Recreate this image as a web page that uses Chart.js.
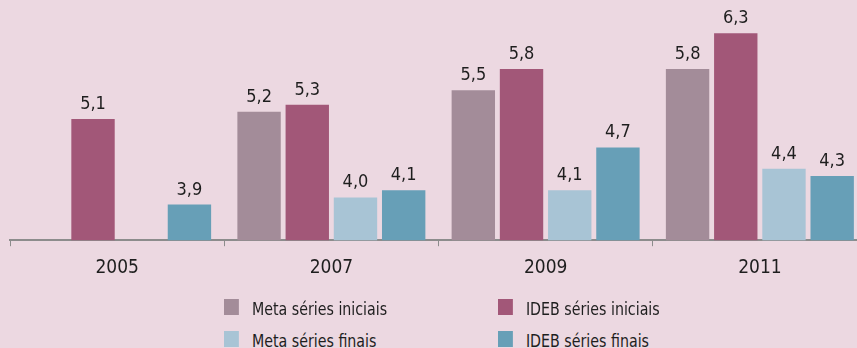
<!DOCTYPE html>
<html lang="pt">
<head>
<meta charset="utf-8">
<script src="https://cdn.jsdelivr.net/npm/chart.js@4"></script>
<style>
  html, body { margin: 0; padding: 0; }
  body {
    width: 857px;
    height: 348px;
    overflow: hidden;
    background: #ecd8e1;
    position: relative;
    font-family: "Liberation Sans Narrow", "DejaVu Sans Condensed", "Liberation Sans", sans-serif;
    color: #1e1e1e;
  }
  #chartBox { position: absolute; left: 0; top: 0; width: 867px; height: 300px; }
  .legend { position: absolute; font-size: 17px; line-height: 20px; white-space: nowrap; transform: scaleX(0.93); transform-origin: 0 0; }
  .legend span.box { display: inline-block; width: 16px; height: 16px; vertical-align: 0px; margin-right: 14px; }
</style>
</head>
<body>
<div id="chartBox"><canvas id="idebChart" width="867" height="300"></canvas></div>
<div id="legend"></div>

<script>
// Anos e séries do IDEB
const years = ["2005", "2007", "2009", "2011"];
const metaIniciais = [null, 5.2, 5.5, 5.8];
const idebIniciais = [5.1, 5.3, 5.8, 6.3];
const metaFinais = [null, 4.0, 4.1, 4.4];
const idebFinais = [3.9, 4.1, 4.7, 4.3];

const seriesNames = ["Meta séries iniciais", "IDEB séries iniciais", "Meta séries finais", "IDEB séries finais"];
const seriesColors = ["#a38c99", "#a25778", "#a8c4d5", "#679fb7"];
const seriesData = [metaIniciais, idebIniciais, metaFinais, idebFinais];

// value labels above each bar, decimal comma
const valueLabels = {
  id: "valueLabels",
  afterDatasetsDraw(chart) {
    const c = chart.ctx;
    c.save();
    c.font = '18px "Liberation Sans Narrow", "DejaVu Sans Condensed", sans-serif';
    c.fillStyle = "#1e1e1e";
    c.textAlign = "center";
    c.textBaseline = "alphabetic";
    chart.data.datasets.forEach((ds, i) => {
      chart.getDatasetMeta(i).data.forEach((bar, j) => {
        const v = ds.data[j];
        if (v === null) return;
        c.fillText(v.toFixed(1).replace(".", ","), bar.x, bar.y - 10);
      });
    });
    c.restore();
  }
};

const ctx = document.getElementById("idebChart").getContext("2d");
new Chart(ctx, {
  type: "bar",
  data: {
    labels: years,
    datasets: seriesData.map((d, i) => ({
      label: seriesNames[i],
      data: d,
      backgroundColor: seriesColors[i],
      borderWidth: 0,
      categoryPercentage: 0.9,
      barPercentage: 0.9
    }))
  },
  options: {
    responsive: false,
    animation: false,
    layout: { padding: { top: 19, left: 10, right: 0, bottom: 11 } },
    plugins: { legend: { display: false }, tooltip: { enabled: false } },
    scales: {
      x: {
        grid: { offset: true, drawOnChartArea: false, drawTicks: true, tickLength: 6, color: "#8c8c8c", lineWidth: 1 },
        border: { color: "#8c8c8c", width: 2 },
        ticks: {
          color: "#1e1e1e",
          padding: 10,
          font: { family: '"Liberation Sans Narrow", "DejaVu Sans Condensed", sans-serif', size: 19 }
        }
      },
      y: { display: false, min: 3.4, max: 6.5 }
    }
  },
  plugins: [valueLabels]
});

// legend in two columns
const legendPos = [[224, 299], [498, 299], [224, 331], [498, 331]];
const legend = document.getElementById("legend");
seriesNames.forEach((name, i) => {
  const item = document.createElement("div");
  item.className = "legend";
  item.style.left = legendPos[i][0] + "px";
  item.style.top = legendPos[i][1] + "px";
  item.innerHTML = '<span class="box" style="background:' + seriesColors[i] + '"></span>' + name;
  legend.appendChild(item);
});
</script>
</body>
</html>
